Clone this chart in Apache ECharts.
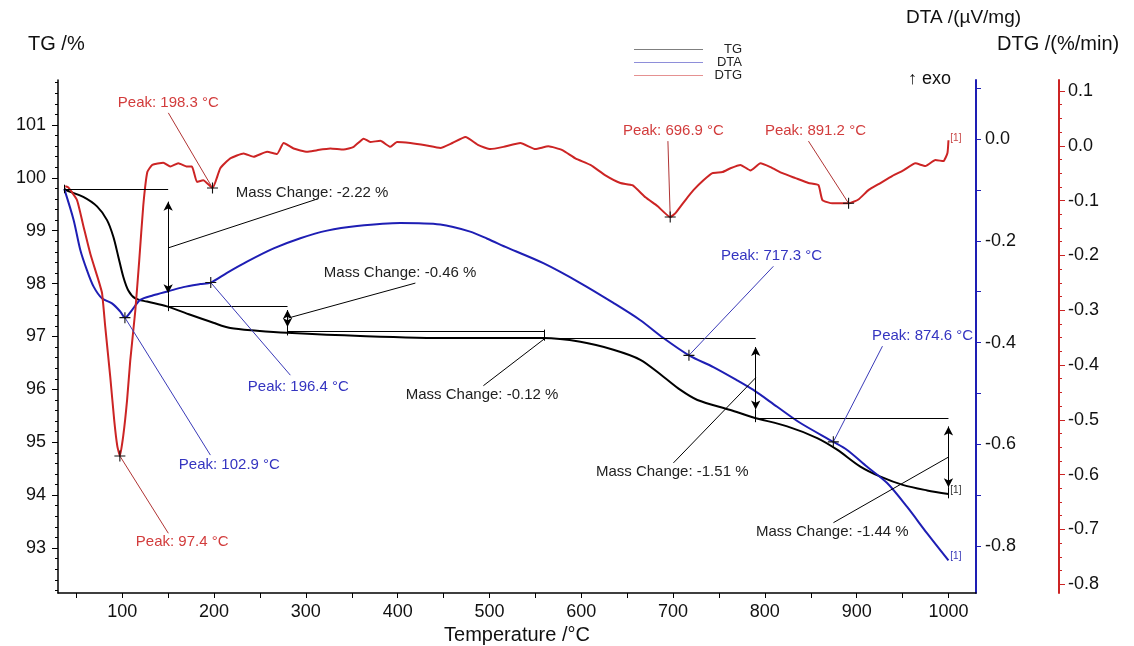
<!DOCTYPE html>
<html><head><meta charset="utf-8">
<script src="https://cdn.jsdelivr.net/npm/echarts@6/dist/echarts.min.js"></script>
<style>html,body{margin:0;padding:0;background:#fff}#c{width:1134px;height:646px}</style>
</head><body><div id="c"></div>
<script>
// ---------- data ----------
const tgTemp = [36.8,39.8,57.5,72.5,83.4,90.2,95.7,101.1,106.6,114.2,127,148.7,174.1,199.2,217.7,246.8,279.5,359.3,457.4,558.7,599,635,664.4,689.5,708,726.5,762.5,787.5,824.3,857,878.7,904,925.9,951,976.8,1000];
const tgVal  = [99.79,99.76,99.64,99.46,99.20,98.89,98.51,98.13,97.87,97.72,97.66,97.57,97.41,97.26,97.16,97.11,97.07,97.01,96.97,96.97,96.90,96.75,96.56,96.24,95.99,95.80,95.61,95.47,95.30,95.08,94.86,94.54,94.35,94.19,94.09,94.02];

const dtaTemp = [36.8,47,54.3,61.6,68.8,77.9,88.8,97.9,102.9,110.6,119.6,133.8,150.2,166.5,185,196.4,214.1,235.9,264.9,294,323.1,355.8,402.9,446.5,479,497.7,520,558.7,599,635,664.4,689.5,717.3,743.9,769.8,787.5,813.4,838.7,874.6,889.6,911.4,933.2,955,976.8,1000];
const dtaVal  = [-0.098,-0.159,-0.218,-0.258,-0.290,-0.313,-0.323,-0.339,-0.351,-0.336,-0.316,-0.307,-0.299,-0.291,-0.285,-0.282,-0.263,-0.241,-0.215,-0.195,-0.180,-0.171,-0.165,-0.168,-0.182,-0.196,-0.214,-0.244,-0.283,-0.322,-0.356,-0.391,-0.425,-0.448,-0.474,-0.493,-0.526,-0.558,-0.595,-0.611,-0.644,-0.676,-0.723,-0.775,-0.828];

const dtgTemp = [37.9,41.2,50.7,57.9,65.2,74.2,78.0,81.5,87.0,91.3,94.6,97.4,101.1,105.2,108.7,114.2,118.5,122.9,127.3,132.7,144.7,152.3,161.0,170.5,175.9,181.4,188.2,198.3,206.8,217.7,232.2,243.1,257.7,268.6,275.8,286.7,301.3,312.2,326.7,341.2,352.1,363.0,370.2,381.1,392.0,399.3,413.8,430.2,446.5,459.6,473.8,488.0,501.0,515.2,533.7,550.0,564.2,579.4,593.6,610.0,626.3,642.6,655.7,669.9,683.0,696.9,702.6,713.5,722.2,733.1,742.9,753.8,762.5,773.4,784.3,795.2,806.1,819.2,833.3,847.5,858.4,862.7,873.6,891.2,901.9,912.8,925.9,939.0,951.0,964.0,974.9,985.8,994.5,998.9,1000];
const dtgVal  = [-0.074,-0.076,-0.099,-0.148,-0.197,-0.246,-0.269,-0.331,-0.423,-0.502,-0.548,-0.566,-0.529,-0.465,-0.392,-0.301,-0.209,-0.109,-0.048,-0.035,-0.031,-0.038,-0.032,-0.038,-0.038,-0.066,-0.063,-0.077,-0.041,-0.023,-0.014,-0.020,-0.011,-0.015,0.005,-0.005,-0.011,-0.008,-0.005,-0.007,-0.002,0.013,0.007,0.009,-0.002,0.007,0.005,0.001,-0.004,0.005,0.016,0.001,-0.006,-0.002,0.005,-0.006,-0.001,-0.008,-0.023,-0.035,-0.054,-0.068,-0.072,-0.094,-0.110,-0.130,-0.123,-0.099,-0.081,-0.063,-0.050,-0.048,-0.041,-0.035,-0.045,-0.032,-0.039,-0.050,-0.059,-0.068,-0.072,-0.099,-0.105,-0.105,-0.098,-0.081,-0.068,-0.055,-0.045,-0.032,-0.037,-0.026,-0.028,-0.013,0.010];

// tick labels
const xLabels = [100,200,300,400,500,600,700,800,900,1000];
const xTicks = [50,100,150,200,250,300,350,400,450,500,550,600,650,700,750,800,850,900,950,1000];
const tgLabels = [93,94,95,96,97,98,99,100,101];
const dtaLabels = [-0.8,-0.6,-0.4,-0.2,0.0];
const dtaTicks = [-0.8,-0.7,-0.6,-0.5,-0.4,-0.3,-0.2,-0.1,0.0,0.1];
const dtgLabels = [-0.8,-0.7,-0.6,-0.5,-0.4,-0.3,-0.2,-0.1,0.0,0.1];

// peaks: [temperature, value]
const dtgPeaks = [[97.4,-0.566],[198.3,-0.077],[696.9,-0.130],[891.2,-0.105]];
const dtaPeaks = [[102.9,-0.351],[196.4,-0.282],[717.3,-0.425],[874.6,-0.595]];
// mass change steps: temperature and TG level
const massT = [36.8,150,280,560,790,1000];
const massL = [99.79,97.57,97.10,96.97,95.45,94.02];
const massTexts = ['Mass Change: -2.22 %','Mass Change: -0.46 %','Mass Change: -0.12 %','Mass Change: -1.51 %','Mass Change: -1.44 %'];

// ---------- helpers ----------
const FONT = 'Liberation Sans, Arial, sans-serif';
const RED = '#cc2424', BLUE = '#1e1eb4';
const pairs = (a,b)=>a.map((t,i)=>[t,b[i]]);
function minors(lo,hi,step){const r=[];for(let v=lo;v<=hi+1e-9;v+=step){r.push(+v.toFixed(4));}return r;}
const crossPath = 'path://M4.5,0 h1 v10 h-1 Z M0,4.5 h10 v1 h-10 Z';
function textPt(t,v,txt,color,size){return {coord:[t,v],symbol:'circle',symbolSize:1,itemStyle:{color:'rgba(0,0,0,0)'},
  label:{show:true,position:'right',distance:0,formatter:txt,color:color,fontSize:size||15,fontFamily:FONT}};}
function crossPt(t,v){return {coord:[t,v],symbol:crossPath,symbolSize:11,itemStyle:{color:'#111'},label:{show:false}};}
function seg(a,b,color,s1,s2){return [{coord:a,symbol:s1||'none',lineStyle:{color:color||'#000',width:1,type:'solid'}},{coord:b,symbol:s2||'none'}];}

// mass change marks on TG
const tgLines = [];
for(let i=0;i<5;i++){ tgLines.push(seg([massT[i],massL[i]],[massT[i+1],massL[i]],'#000')); }
tgLines.push(seg([massT[0],massL[0]+0.08],[massT[0],massL[0]-0.08],'#000'));
tgLines.push(seg([150,99.55],[150,97.82],'#000','arrow','arrow'));
tgLines.push(seg([150,97.82],[150,97.48],'#000'));
tgLines.push(seg([280,97.50],[280,97.18],'#000','arrow','arrow'));
tgLines.push(seg([280,97.18],[280,97.02],'#000'));
tgLines.push(seg([560,97.13],[560,96.92],'#000'));
tgLines.push(seg([790,96.80],[790,95.62],'#000','arrow','arrow'));
tgLines.push(seg([790,95.62],[790,95.38],'#000'));
tgLines.push(seg([1000,95.30],[1000,94.15],'#000','arrow','arrow'));
tgLines.push(seg([1000,94.15],[1000,93.94],'#000'));
// leaders
tgLines.push(seg([150,98.675],[312.5,99.60],'#000'));
tgLines.push(seg([281,97.35],[419.3,98.01],'#000'));
tgLines.push(seg([560.9,96.97],[493.4,96.07],'#000'));
tgLines.push(seg([790,96.22],[700.4,94.61],'#000'));
tgLines.push(seg([1000,94.72],[874.7,93.48],'#000'));
const tgPoints = [
  textPt(223.2,99.71,massTexts[0],'#222'),
  textPt(319,98.20,massTexts[1],'#222'),
  textPt(408.3,95.90,massTexts[2],'#222'),
  textPt(615.4,94.44,massTexts[3],'#222'),
  textPt(789.8,93.31,massTexts[4],'#222'),
  textPt(1001.5,94.10,'[1]','#333',10)
];

const RL = '#b03434', BL = '#3a3ab8';
const dtgLines = [
  seg([150.2,0.060],dtgPeaks[1],RL),
  seg(dtgPeaks[0],[150.2,-0.707],RL),
  seg([694.4,0.0085],dtgPeaks[2],RL),
  seg([847.5,0.0085],dtgPeaks[3],RL)
];
const dtgPoints = [
  textPt(94.6,0.078,'Peak: 198.3 °C','#d23c3c'),
  textPt(114.2,-0.723,'Peak: 97.4 °C','#d23c3c'),
  textPt(644.8,0.027,'Peak: 696.9 °C','#d23c3c'),
  textPt(799.5,0.027,'Peak: 891.2 °C','#d23c3c'),
  textPt(1001.5,0.014,'[1]','#c84848',10)
].concat(dtgPeaks.map(p=>crossPt(p[0],p[1])));

const dtaLines = [
  seg(dtaPeaks[0],[196,-0.621],BL),
  seg(dtaPeaks[1],[283.1,-0.464],BL),
  seg([809.3,-0.250],dtaPeaks[2],BL),
  seg([928.1,-0.407],dtaPeaks[3],BL)
];
const dtaPoints = [
  textPt(161.1,-0.641,'Peak: 102.9 °C','#3434c0'),
  textPt(236.2,-0.486,'Peak: 196.4 °C','#3434c0'),
  textPt(751.6,-0.230,'Peak: 717.3 °C','#3434c0'),
  textPt(916.3,-0.387,'Peak: 874.6 °C','#3434c0'),
  textPt(1001.5,-0.82,'[1]','#3a3ab8',10)
].concat(dtaPeaks.map(p=>crossPt(p[0],p[1])));

// ---------- chart ----------
const chart = echarts.init(document.getElementById('c'));
const lbl = {color:'#111',fontSize:18,fontFamily:FONT};
const TGMIN=92.15, TGMAX=101.85, DTAMIN=-0.892, DTAMAX=0.116, DTGMIN=-0.816, DTGMAX=0.12;
chart.setOption({
  animation:false,
  backgroundColor:'#fff',
  grid:{left:58,right:158,top:80,bottom:53,containLabel:false,outerBoundsMode:'none'},
  legend:{
    data:['TG','DTA','DTG'], orient:'vertical', left:629, top:38,
    itemWidth:69, itemHeight:11, itemGap:0, icon:'path://M0,5 L100,5 L100,6 L0,6 Z',
    formatter:n=>'{a|'+n+'}',
    textStyle:{fontSize:13,fontFamily:FONT,color:'#222',lineHeight:11,
      rich:{a:{width:34,align:'right',fontSize:13,lineHeight:11,fontFamily:FONT,color:'#222'}}}
  },
  xAxis:{type:'value',min:30,max:1030,
    name:'Temperature /°C',nameLocation:'middle',nameGap:30,
    nameTextStyle:{fontSize:20,fontFamily:FONT,color:'#111'},
    axisLine:{onZero:false,lineStyle:{color:'#000',width:1.5}},
    axisTick:{customValues:xTicks,length:5,lineStyle:{color:'#000'}},
    axisLabel:Object.assign({customValues:xLabels,margin:10,formatter:v=>String(v)},lbl),
    splitLine:{show:false}},
  yAxis:[
    {type:'value',position:'left',min:TGMIN,max:TGMAX,
      axisLine:{show:true,onZero:false,lineStyle:{color:'#000',width:1.5}},
      axisTick:{customValues:tgLabels,length:6,lineStyle:{color:'#000'}},
      axisLabel:Object.assign({customValues:tgLabels,margin:12},lbl),
      splitLine:{show:false}},
    {type:'value',position:'right',min:DTAMIN,max:DTAMAX,
      axisLine:{show:true,onZero:false,lineStyle:{color:BLUE,width:2}},
      axisTick:{customValues:dtaTicks,length:5,lineStyle:{color:BLUE}},
      axisLabel:Object.assign({customValues:dtaLabels,margin:9,formatter:v=>v.toFixed(1)},lbl),
      splitLine:{show:false}},
    {type:'value',position:'right',offset:83,min:DTGMIN,max:DTGMAX,
      axisLine:{show:true,onZero:false,lineStyle:{color:RED,width:2}},
      axisTick:{customValues:dtgLabels,length:6,lineStyle:{color:RED}},
      axisLabel:Object.assign({customValues:dtgLabels,margin:9,formatter:v=>v.toFixed(1)},lbl),
      splitLine:{show:false}},
    {type:'value',position:'left',min:TGMIN,max:TGMAX,
      axisLine:{show:false,onZero:false},axisLabel:{show:false},splitLine:{show:false},
      axisTick:{customValues:minors(92.2,101.8,0.2),length:3,lineStyle:{color:'#000'}}},
    {type:'value',position:'right',offset:83,min:DTGMIN,max:DTGMAX,
      axisLine:{show:false,onZero:false},axisLabel:{show:false},splitLine:{show:false},
      axisTick:{customValues:minors(-0.8,0.1,0.025),length:3,lineStyle:{color:RED}}}
  ],
  graphic:[
    {type:'text',left:28,top:34,style:{text:'TG /%',fontSize:20,fontFamily:FONT,fill:'#111'}},
    {type:'text',left:906,top:8,style:{text:'DTA /(µV/mg)',fontSize:19,fontFamily:FONT,fill:'#111'}},
    {type:'text',left:997,top:34,style:{text:'DTG /(%/min)',fontSize:20,fontFamily:FONT,fill:'#111'}},
    {type:'text',left:908,top:70,style:{text:'↑ exo',fontSize:18,fontFamily:FONT,fill:'#111'}}
  ],
  series:[
    {name:'TG',type:'line',yAxisIndex:0,data:pairs(tgTemp,tgVal),symbol:'none',smooth:0.3,
      lineStyle:{color:'#000',width:2},itemStyle:{color:'#000'},z:3,
      markLine:{silent:true,animation:false,symbol:['none','none'],symbolSize:[7,9],label:{show:false},lineStyle:{color:'#000',width:1,type:'solid'},data:tgLines},
      markPoint:{silent:true,animation:false,label:{show:false},data:tgPoints}},
    {name:'DTA',type:'line',yAxisIndex:1,data:pairs(dtaTemp,dtaVal),symbol:'none',smooth:0.3,
      lineStyle:{color:BLUE,width:2},itemStyle:{color:BLUE},z:3,
      markLine:{silent:true,animation:false,symbol:['none','none'],label:{show:false},lineStyle:{color:BL,width:1,type:'solid'},data:dtaLines},
      markPoint:{silent:true,animation:false,label:{show:false},data:dtaPoints}},
    {name:'DTG',type:'line',yAxisIndex:2,data:pairs(dtgTemp,dtgVal),symbol:'none',smooth:0.15,
      lineStyle:{color:RED,width:2},itemStyle:{color:RED},z:3,
      markLine:{silent:true,animation:false,symbol:['none','none'],label:{show:false},lineStyle:{color:RL,width:1,type:'solid'},data:dtgLines},
      markPoint:{silent:true,animation:false,label:{show:false},data:dtgPoints}}
  ]
});
</script></body></html>
